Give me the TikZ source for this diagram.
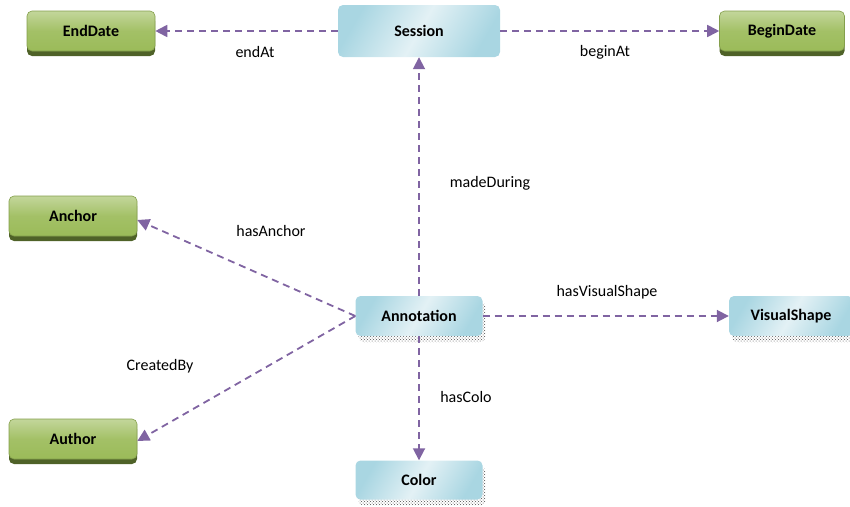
\documentclass[tikz,border=0pt]{standalone}
\usepackage{fontspec}
\setmainfont{Carlito}
\usetikzlibrary{shadows,patterns,arrows.meta}
\definecolor{arrowpurple}{HTML}{8064A2}
\definecolor{greenmid}{HTML}{9BBB59}
\definecolor{greenlight}{HTML}{C3D69B}
\definecolor{greendark}{HTML}{4F6228}
\definecolor{bluelight}{HTML}{E3F1F5}
\definecolor{bluemid}{HTML}{A9D6E2}
\tikzset{
  greenbox/.style={draw=greenmid!85!black, line width=0.6pt, rounded corners=5pt,
    top color=greenlight, bottom color=greenmid, middle color=greenmid!80!greenlight,
    font=\fontsize{16}{18}\selectfont\bfseries, text=black,
    general shadow={shadow xshift=0pt, shadow yshift=-5pt, fill=greendark, rounded corners=5pt}},
  bluebox/.style={draw=none, rounded corners=5pt,
    shading=axis, left color=bluemid, right color=bluemid, middle color=bluelight, shading angle=60,
    font=\fontsize{16}{18}\selectfont\bfseries, text=black},
  hatchbox/.style={bluebox,
    general shadow={shadow xshift=3pt, shadow yshift=-6pt, pattern=crosshatch dots, pattern color=gray!60!black, rounded corners=5pt}},
  rel/.style={draw=arrowpurple, line width=1.8pt, dash pattern=on 7pt off 5pt,
    -{Triangle[length=12pt,width=12pt]}},
  lbl/.style={font=\fontsize{16}{18}\selectfont, text=black}
}
\begin{document}
\begin{tikzpicture}[x=1pt,y=-1pt]
\useasboundingbox (0,0) rectangle (850,506);
\node[greenbox, minimum width=128pt, minimum height=40pt] (enddate) at (91,31) {EndDate};
\node[greenbox, minimum width=125pt, minimum height=40pt] (begindate) at (782,31) {BeginDate};
\node[greenbox, minimum width=128pt, minimum height=40pt] (anchor) at (73,216) {Anchor};
\node[greenbox, minimum width=128pt, minimum height=40pt] (author) at (73,439) {Author};
\node[bluebox, minimum width=162pt, minimum height=52pt] (session) at (419,31) {Session};
\node[hatchbox, minimum width=127pt, minimum height=40pt] (annotation) at (419,316) {Annotation};
\node[hatchbox, minimum width=127pt, minimum height=39pt] (color) at (419,480) {Color};
\node[hatchbox, minimum width=124pt, minimum height=40pt] (visualshape) at (791,316) {VisualShape};

\draw[rel] (session.west) -- (enddate.east);
\draw[rel] (session.east) -- (begindate.west);
\draw[rel] (annotation.north) -- (session.south);
\draw[rel] (annotation.west) -- ([yshift=-4pt]anchor.east);
\draw[rel] (annotation.west) -- ([yshift=-2pt]author.east);
\draw[rel] (annotation.east) -- (visualshape.west);
\draw[rel] (annotation.south) -- (color.north);

\node[lbl] (l1) at (255,52) {endAt};
\node[lbl] (l2) at (605,52) {beginAt};
\node[lbl] (l3) at (490,183) {madeDuring};
\node[lbl] (l4) at (271,231) {hasAnchor};
\node[lbl] (l5) at (607,292) {hasVisualShape};
\node[lbl] (l6) at (160,366) {CreatedBy};
\node[lbl] (l7) at (466,397) {hasColo};
\end{tikzpicture}
\end{document}
